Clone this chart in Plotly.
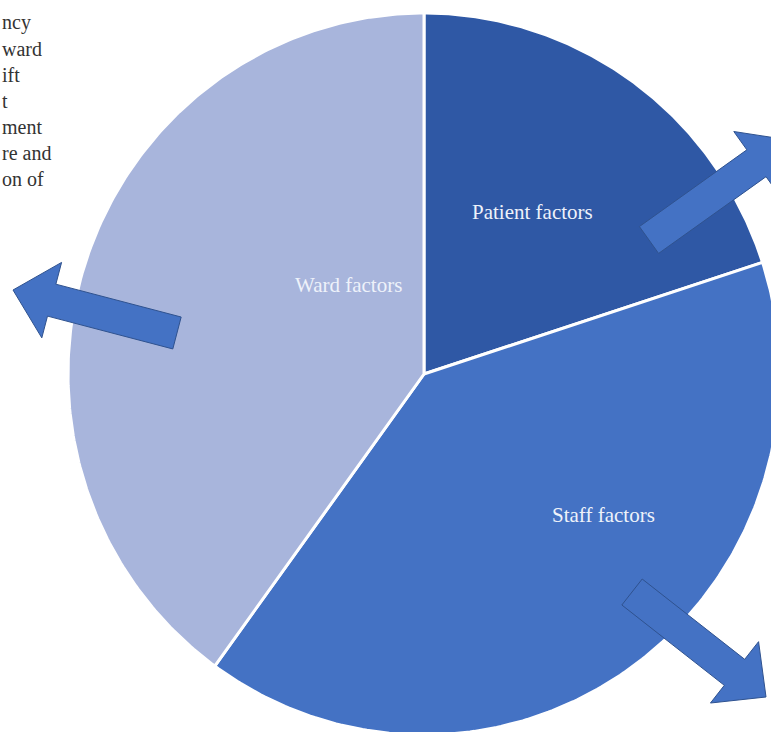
import numpy as np
import plotly.graph_objects as go

# ---- data ----
categories = ["Patient factors", "Staff factors", "Ward factors"]
shares = [20, 40, 40]
slice_colors = ["#2F58A5", "#4472C4", "#A8B5DC"]
# visible (cropped) fragments of the side text
side_text = ["ncy", "ward", "ift", "t", "ment", "re and", "on of"]

W, H = 771, 732
CX, CY, RX, RY = 424, 374, 356, 361  # pie centre / radii in pixels


def d(px, py):
    """pixel -> data coordinates (unit radius)"""
    return (px - CX) / RX, (CY - py) / RY


fig = go.Figure()

# slices clockwise from 12 o'clock
start = 90.0
total = float(sum(shares))
for cat, val, col in zip(categories, shares, slice_colors):
    sweep = 360.0 * val / total
    ang = np.radians(np.linspace(start, start - sweep, 200))
    xs = np.concatenate([[0], np.cos(ang), [0]])
    ys = np.concatenate([[0], np.sin(ang), [0]])
    fig.add_trace(go.Scatter(x=xs, y=ys, fill="toself", fillcolor=col, mode="lines",
                             line=dict(color="white", width=3), name=cat,
                             hoverinfo="name", showlegend=False))
    start -= sweep

# slice labels (pixel anchor positions)
label_pos = {"Patient factors": (532, 212), "Ward factors": (348, 285), "Staff factors": (603, 515)}
for cat in categories:
    x, y = d(*label_pos[cat])
    fig.add_annotation(x=x, y=y, xref="x", yref="y", text=cat, showarrow=False,
                       font=dict(family="Liberation Serif", size=21, color="#EEF2FA"))


# block arrows
def arrow_path(tail, tip, shaft_w=33, head_w=78, head_len=40):
    t = np.array(tail, float)
    p = np.array(tip, float)
    v = p - t
    L = np.linalg.norm(v)
    u = v / L
    n = np.array([-u[1], u[0]])
    b = p - u * head_len
    pts = [t + n * shaft_w / 2, b + n * shaft_w / 2, b + n * head_w / 2, p,
           b - n * head_w / 2, b - n * shaft_w / 2, t - n * shaft_w / 2]
    dp = [d(*q) for q in pts]
    return "M " + " L ".join(f"{x:.4f},{y:.4f}" for x, y in dp) + " Z"


arrows = [((177, 333), (13, 290)), ((649, 240), (789, 140)), ((632, 592), (766, 697))]
for tail, tip in arrows:
    fig.add_shape(type="path", path=arrow_path(tail, tip), xref="x", yref="y",
                  fillcolor="#4472C4", line=dict(color="#2F528F", width=1), layer="above")

# cropped side text
for i, line in enumerate(side_text):
    fig.add_annotation(x=0, y=1 - (23 + 26 * i) / H, xref="paper", yref="paper",
                       xanchor="left", yanchor="middle", text=line, showarrow=False,
                       font=dict(family="Liberation Serif", size=20, color="#333333"))

x0, _ = d(0, 0)
x1, _ = d(W, 0)
_, y0 = d(0, H)
_, y1 = d(0, 0)
fig.update_layout(
    width=W, height=H, margin=dict(l=0, r=0, t=0, b=0),
    paper_bgcolor="white", plot_bgcolor="white",
    xaxis=dict(range=[x0, x1], visible=False, fixedrange=True),
    yaxis=dict(range=[y0, y1], visible=False, fixedrange=True),
    showlegend=False,
)

fig.write_html("out.html", config={"displayModeBar": False},
               post_script="document.body.style.margin='0';document.body.style.overflow='hidden';")
